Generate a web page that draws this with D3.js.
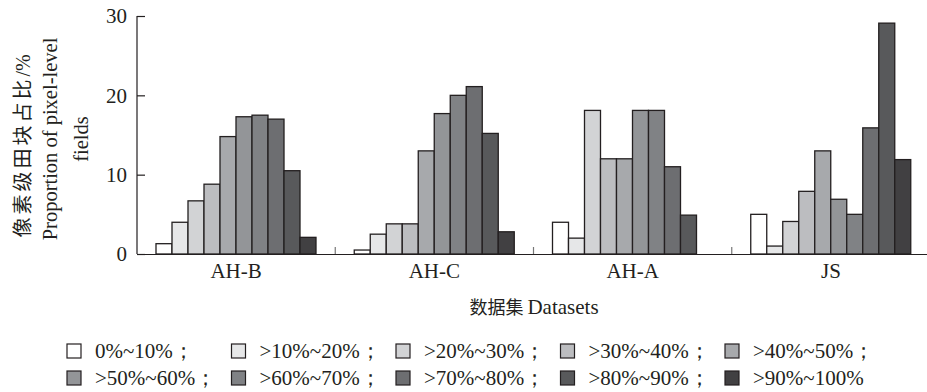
<!DOCTYPE html>
<html>
<head>
<meta charset="utf-8">
<script src="https://cdn.jsdelivr.net/npm/d3@7"></script>
<style>
  body { margin: 0; background: #fff; }
  text { font-family: "Liberation Serif", "Times New Roman", serif; fill: #231f20; }
  .cjk { font-family: "Noto Sans CJK SC", sans-serif; }
</style>
</head>
<body>
<svg id="chart" width="927" height="392"></svg>
<script>
// datasets on the x axis
var datasets = ['AH-B', 'AH-C', 'AH-A', 'JS'];

// share ranges (legend entries)
var ranges = ['0%~10%', '>10%~20%', '>20%~30%', '>30%~40%', '>40%~50%',
              '>50%~60%', '>60%~70%', '>70%~80%', '>80%~90%', '>90%~100%'];

// proportion of pixel-level fields per range, one array per dataset
var ahB = [1.3, 4.0, 6.7, 8.8, 14.8, 17.3, 17.5, 17.0, 10.5, 2.1];
var ahC = [0.5, 2.5, 3.8, 3.8, 13.0, 17.7, 20.0, 21.1, 15.2, 2.8];
var ahA = [4.0, 2.0, 18.1, 12.0, 12.0, 18.1, 18.1, 11.0, 4.9, 0];
var js  = [5.0, 1.0, 4.1, 7.9, 13.0, 6.9, 5.0, 15.9, 29.1, 11.9];

var yTicks = [0, 10, 20, 30];

var fills = ['#ffffff', '#e6e7e8', '#d2d3d5', '#bcbdc0', '#a7a9ac',
             '#939598', '#808285', '#6d6e71', '#58595b', '#414042'];

(function () {
    var values = [ahB, ahC, ahA, js],
        svg = d3.select('#chart'),
        padLeft = 137,
        padRight = 930,
        padTop = 16,
        padBottom = 254;

    var x0 = d3.scaleBand().domain(datasets).range([padLeft, padRight]),
        // bars sit in the middle of each band, leaving ~19px either side
        x1 = d3.scaleBand().domain(d3.range(ranges.length)).range([19, 19 + 160]),
        y = d3.scaleLinear().domain([0, 30]).range([padBottom, padTop]),
        colour = d3.scaleOrdinal().domain(d3.range(ranges.length)).range(fills);

    // bars
    var groups = svg.selectAll('g.group')
        .data(datasets)
        .enter().append('g')
        .attr('class', 'group')
        .attr('transform', function (d) { return 'translate(' + x0(d) + ',0)'; });

    groups.selectAll('rect')
        .data(function (d, i) {
            return values[i].map(function (v, j) { return {k: j, v: v}; })
                .filter(function (e) { return e.v > 0; });
        })
        .enter().append('rect')
        .attr('x', function (d) { return x1(d.k); })
        .attr('y', function (d) { return y(d.v); })
        .attr('width', x1.bandwidth())
        .attr('height', function (d) { return y(0) - y(d.v); })
        .attr('fill', function (d) { return colour(d.k); })
        .attr('stroke', '#231f20')
        .attr('stroke-width', 1.3);

    // y axis, ticks pointing inwards
    var yAxis = svg.append('g')
        .attr('transform', 'translate(' + padLeft + ',0)')
        .call(d3.axisRight(y).tickValues(yTicks).tickSize(8).tickFormat(d3.format('d')));
    yAxis.select('.domain').attr('stroke', '#231f20').attr('stroke-width', 1.2)
        .attr('d', 'M0,' + padTop + 'V' + padBottom);
    yAxis.selectAll('.tick line').attr('stroke', '#231f20').attr('stroke-width', 1.2);
    yAxis.selectAll('.tick text')
        .attr('x', -10)
        .attr('text-anchor', 'end')
        .style('font-size', '21px');

    // x axis
    var xAxis = svg.append('g')
        .attr('transform', 'translate(0,' + padBottom + ')')
        .call(d3.axisBottom(x0).tickSize(0));
    xAxis.select('.domain').attr('stroke', '#231f20').attr('stroke-width', 1.2);
    xAxis.selectAll('.tick text')
        .attr('y', 24).attr('dy', null)
        .style('font-size', '21px');

    // separators between datasets
    svg.selectAll('line.sep')
        .data(datasets.slice(1))
        .enter().append('line')
        .attr('class', 'sep')
        .attr('x1', function (d) { return x0(d); })
        .attr('x2', function (d) { return x0(d); })
        .attr('y1', padBottom)
        .attr('y2', padBottom - 7)
        .attr('stroke', '#777')
        .attr('stroke-width', 1.2);

    // x title
    var xt = svg.append('text')
        .attr('x', 534)
        .attr('y', 314)
        .attr('text-anchor', 'middle')
        .style('font-size', '21px');
    xt.append('tspan').attr('class', 'cjk').style('font-size', '18px').text('数据集 ');
    xt.append('tspan').text('Datasets');

    // y title, rotated
    var yt = svg.append('g').attr('transform', 'translate(0,139) rotate(-90)');
    var l1 = yt.append('text')
        .attr('x', -7).attr('y', 30)
        .attr('text-anchor', 'middle')
        .style('font-size', '20px');
    l1.append('tspan').attr('class', 'cjk').style('letter-spacing', '3px').text('像素级田块占比');
    l1.append('tspan').text('/%');
    yt.append('text')
        .attr('x', 0).attr('y', 57)
        .attr('text-anchor', 'middle')
        .style('font-size', '20.5px')
        .text('Proportion of pixel-level');
    yt.append('text')
        .attr('x', 0).attr('y', 88)
        .attr('text-anchor', 'middle')
        .style('font-size', '20.5px')
        .text('fields');

    // legend
    var legend = svg.selectAll('g.legend')
        .data(ranges)
        .enter().append('g')
        .attr('class', 'legend')
        .attr('transform', function (d, i) {
            return 'translate(' + (67 + (i % 5) * 164.5) + ',' + (i < 5 ? 344 : 371) + ')';
        });
    legend.append('rect')
        .attr('width', 14).attr('height', 14)
        .attr('fill', function (d, i) { return colour(i); })
        .attr('stroke', '#231f20')
        .attr('stroke-width', 1.2);
    legend.append('text')
        .attr('x', 28).attr('y', 14)
        .style('font-size', '21px')
        .text(function (d, i) { return i < ranges.length - 1 ? d + '；' : d; });
}());
</script>
</body>
</html>
